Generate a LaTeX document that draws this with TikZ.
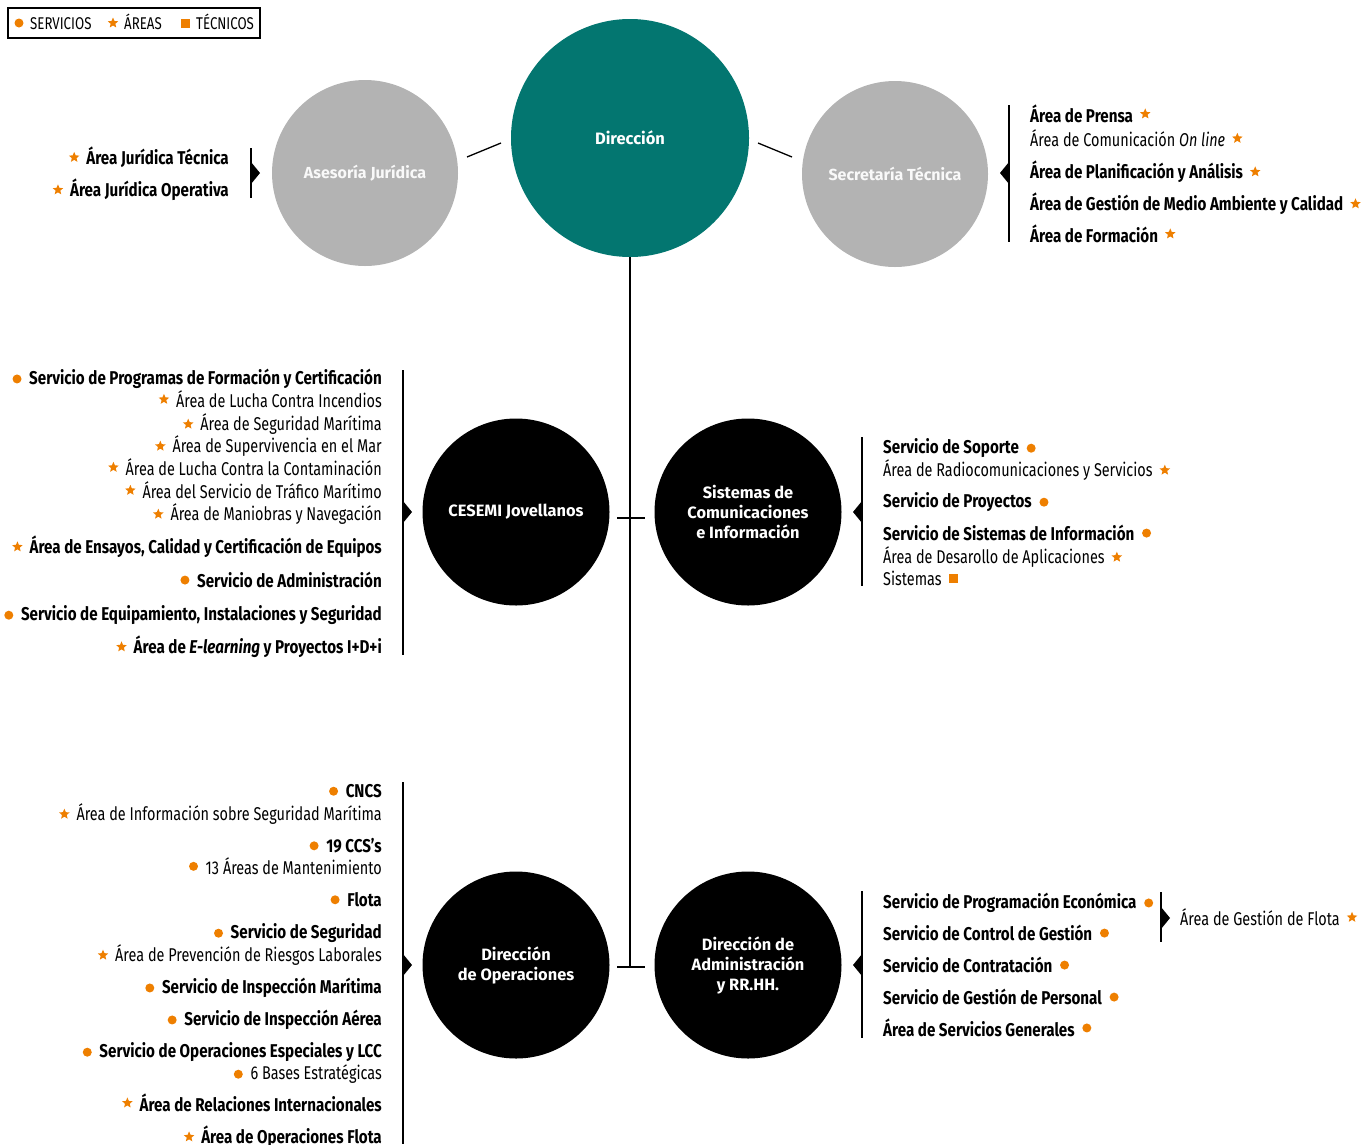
\documentclass[tikz,border=0pt]{standalone}
\usepackage{fontspec}
\setmainfont{Fira Sans}
\newfontfamily\lfont[FakeStretch=0.78, BoldFeatures={FakeStretch=0.82}, BoldItalicFeatures={FakeStretch=0.82}]{Fira Sans}
\usetikzlibrary{calc}
\definecolor{orng}{HTML}{EE7F00}
\definecolor{teal1}{HTML}{037670}
\definecolor{grey1}{HTML}{B3B3B3}
\newcommand{\itemR}[6]{\node[#4, anchor=mid east] (#1) at (#2,#3) {#5};
  \pic at ($(#1.west)+(-12,0)$) {#6};}
\newcommand{\itemL}[6]{\node[#4, anchor=mid west] (#1) at (#2,#3) {#5};
  \pic at ($(#1.east)+(12,0)$) {#6};}
\tikzset{
  dotmk/.pic={\fill[orng] (0,0) circle (4.5);},
  starmk/.pic={\fill[orng] (270:5.5) -- (306:2.5) -- (342:5.5) -- (18:2.5) -- (54:5.5) -- (90:2.5) -- (126:5.5) -- (162:2.5) -- (198:5.5) -- (234:2.5) -- cycle;},
  sqmk/.pic={\fill[orng] (-4.5,-4.5) rectangle (4.5,4.5);},
}
\begin{document}
\begin{tikzpicture}[x=1pt,y=-1pt,
  bigc/.style={circle, fill=teal1, minimum size=238pt, inner sep=0, text=white, font=\bfseries\fontsize{16.5}{19}\selectfont, align=center},
  grayc/.style={circle, fill=grey1, minimum size=186pt, inner sep=0, text=white!92!grey1, font=\bfseries\fontsize{16}{19}\selectfont, align=center},
  blkc/.style={circle, fill=black, minimum size=187pt, inner sep=0, text=white, font=\bfseries\fontsize{16.4}{20}\selectfont, align=center},
  itb/.style={font=\lfont\bfseries\fontsize{18.5}{20}\selectfont, inner sep=0, yshift=-5pt},
  itr/.style={font=\lfont\fontsize{18.5}{20}\selectfont, inner sep=0, yshift=-5pt},
  leg/.style={font=\lfont\fontsize{17}{17}\selectfont, inner sep=0, anchor=mid west, yshift=-4pt},
  conn/.style={line width=1.3pt},
  brk/.style={line width=1.8pt},
]
\useasboundingbox (0,0) rectangle (1370,1144);

% legend
\draw[line width=1.2pt] (8,8) rectangle (260,38);
\pic at (19,23) {dotmk};
\node[leg] (lg1) at (30,23) {SERVICIOS};
\pic at (113,23) {starmk};
\node[leg] (lg2) at (124,23) {ÁREAS};
\pic at (185,23) {sqmk};
\node[leg] (lg3) at (196,23) {TÉCNICOS};

% top circles
\node[bigc] (dir) at (630,138) {Dirección};
\node[grayc] (ase) at (365,173) {Asesoría Jurídica};
\node[grayc] (sec) at (895,174) {Secretaría Técnica};
\coordinate (a1) at (467,157); \coordinate (a2) at (501,143);
\coordinate (b1) at (758,143); \coordinate (b2) at (792,157);
\draw[conn] (a1) -- (a2);
\draw[conn] (b1) -- (b2);

% middle / bottom circles
\node[blkc] (ces) at (516,512) {CESEMI Jovellanos};
\node[blkc] (sis) at (748,512) {Sistemas de\\Comunicaciones\\e Información};
\node[blkc] (ope) at (516,965) {Dirección\\de Operaciones};
\node[blkc] (adm) at (748,965) {Dirección de\\Administración\\y RR.HH.};

\coordinate (vend) at (630,967);
\draw[conn] (dir.south) -- (vend);
\coordinate (t1) at (617,518); \coordinate (t2) at (645,518);
\coordinate (t3) at (617,967); \coordinate (t4) at (645,967);
\draw[conn] (t1) -- (t2);
\draw[conn] (t3) -- (t4);

% brackets
\draw[brk] (251,148) -- (251,198);
\fill (251,162) -- (260,173) -- (251,184) -- cycle;
\draw[brk] (1009,105) -- (1009,242);
\fill (1009,162) -- (1000,173) -- (1009,184) -- cycle;
\draw[brk] (403,370) -- (403,655);
\fill (403,501) -- (412,512) -- (403,523) -- cycle;
\draw[brk] (862,437) -- (862,586);
\fill (862,501) -- (853,512) -- (862,523) -- cycle;
\draw[brk] (403,782) -- (403,1144);
\fill (403,954) -- (412,965) -- (403,976) -- cycle;
\draw[brk] (862,891) -- (862,1038);
\fill (862,954) -- (853,965) -- (862,976) -- cycle;
\draw[brk] (1161,892) -- (1161,942);
\fill (1161,907) -- (1170,918) -- (1161,929) -- cycle;

% Asesoria list
\itemR{aj1}{229}{157}{itb}{Área Jurídica Técnica}{starmk}
\itemR{aj2}{229}{189}{itb}{Área Jurídica Operativa}{starmk}

% Secretaria list
\itemL{st1}{1030}{115}{itb}{Área de Prensa}{starmk}
\itemL{st2}{1030}{139}{itr}{Área de Comunicación \textit{On line}}{starmk}
\itemL{st3}{1030}{171}{itb}{Área de Planificación y Análisis}{starmk}
\itemL{st4}{1030}{203}{itb}{Área de Gestión de Medio Ambiente y Calidad}{starmk}
\itemL{st5}{1030}{235}{itb}{Área de Formación}{starmk}

% CESEMI list
\itemR{c1}{382}{377}{itb}{Servicio de Programas de Formación y Certificación}{dotmk}
\itemR{c2}{382}{400}{itr}{Área de Lucha Contra Incendios}{starmk}
\itemR{c3}{382}{423}{itr}{Área de Seguridad Marítima}{starmk}
\itemR{c4}{382}{445}{itr}{Área de Supervivencia en el Mar}{starmk}
\itemR{c5}{382}{468}{itr}{Área de Lucha Contra la Contaminación}{starmk}
\itemR{c6}{382}{491}{itr}{Área del Servicio de Tráfico Marítimo}{starmk}
\itemR{c7}{382}{513}{itr}{Área de Maniobras y Navegación}{starmk}
\itemR{c8}{382}{546}{itb}{Área de Ensayos, Calidad y Certificación de Equipos}{starmk}
\itemR{c9}{382}{580}{itb}{Servicio de Administración}{dotmk}
\itemR{c10}{382}{613}{itb}{Servicio de Equipamiento, Instalaciones y Seguridad}{dotmk}
\itemR{c11}{382}{646}{itb}{Área de \textit{E-learning} y Proyectos I+D+i}{starmk}

% Sistemas list
\itemL{s1}{883}{446}{itb}{Servicio de Soporte}{dotmk}
\itemL{s2}{883}{469}{itr}{Área de Radiocomunicaciones y Servicios}{starmk}
\itemL{s3}{883}{500}{itb}{Servicio de Proyectos}{dotmk}
\itemL{s4}{883}{533}{itb}{Servicio de Sistemas de Información}{dotmk}
\itemL{s5}{883}{556}{itr}{Área de Desarollo de Aplicaciones}{starmk}
\itemL{s6}{883}{578}{itr}{Sistemas}{sqmk}

% Operaciones list
\itemR{o1}{382}{790}{itb}{CNCS}{dotmk}
\itemR{o2}{382}{813}{itr}{Área de Información sobre Seguridad Marítima}{starmk}
\itemR{o3}{382}{845}{itb}{19 CCS’s}{dotmk}
\itemR{o4}{382}{867}{itr}{13 Áreas de Mantenimiento}{dotmk}
\itemR{o5}{382}{899}{itb}{Flota}{dotmk}
\itemR{o6}{382}{931}{itb}{Servicio de Seguridad}{dotmk}
\itemR{o7}{382}{954}{itr}{Área de Prevención de Riesgos Laborales}{starmk}
\itemR{o8}{382}{986}{itb}{Servicio de Inspección Marítima}{dotmk}
\itemR{o9}{382}{1018}{itb}{Servicio de Inspección Aérea}{dotmk}
\itemR{o10}{382}{1050}{itb}{Servicio de Operaciones Especiales y LCC}{dotmk}
\itemR{o11}{382}{1072}{itr}{6 Bases Estratégicas}{dotmk}
\itemR{o12}{382}{1104}{itb}{Área de Relaciones Internacionales}{starmk}
\itemR{o13}{382}{1136}{itb}{Área de Operaciones Flota}{starmk}

% Administracion list
\itemL{d1}{883}{901}{itb}{Servicio de Programación Económica}{dotmk}
\itemL{d2}{883}{933}{itb}{Servicio de Control de Gestión}{dotmk}
\itemL{d3}{883}{965}{itb}{Servicio de Contratación}{dotmk}
\itemL{d4}{883}{997}{itb}{Servicio de Gestión de Personal}{dotmk}
\itemL{d5}{883}{1029}{itb}{Área de Servicios Generales}{dotmk}
\itemL{f1}{1180}{918}{itr}{Área de Gestión de Flota}{starmk}
\end{tikzpicture}
\end{document}
